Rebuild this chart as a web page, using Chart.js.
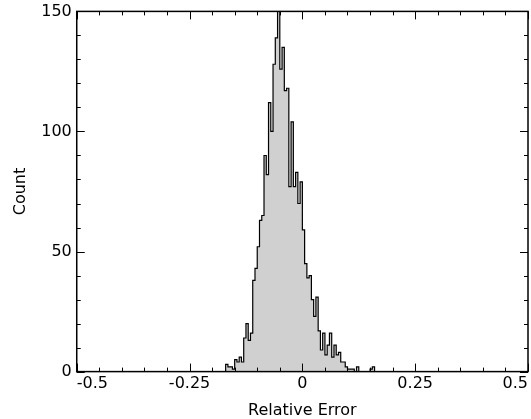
<!DOCTYPE html>
<html>
<head>
<meta charset="utf-8">
<script src="https://cdn.jsdelivr.net/npm/chart.js@4.4.0/dist/chart.umd.min.js"></script>
<style>
  html, body { margin: 0; padding: 0; background: #fff; }
  #wrap { width: 531px; height: 419px; }
</style>
</head>
<body>
<div id="wrap"><canvas id="histChart" width="531" height="419"></canvas></div>
<script>
// left edge of each histogram bin (bin width 0.005), last entry closes the final bin
const binEdges = [
  -0.175, -0.170, -0.165, -0.160, -0.155, -0.150, -0.145, -0.140, -0.135, -0.130,
  -0.125, -0.120, -0.115, -0.110, -0.105, -0.100, -0.095, -0.090, -0.085, -0.080,
  -0.075, -0.070, -0.065, -0.060, -0.055, -0.050, -0.045, -0.040, -0.035, -0.030,
  -0.025, -0.020, -0.015, -0.010, -0.005, 0.000, 0.005, 0.010, 0.015, 0.020,
  0.025, 0.030, 0.035, 0.040, 0.045, 0.050, 0.055, 0.060, 0.065, 0.070,
  0.075, 0.080, 0.085, 0.090, 0.095, 0.100, 0.105, 0.110, 0.115, 0.120,
  0.125, 0.130, 0.135, 0.140, 0.145, 0.150, 0.155, 0.160
];
const counts = [
  0, 3, 2, 2, 1, 5, 4, 6, 4, 14,
  20, 13, 16, 38, 43, 52, 63, 65, 90, 82,
  112, 100, 128, 139, 150, 126, 135, 117, 118, 77,
  104, 77, 83, 70, 79, 59, 45, 39, 40, 30,
  23, 31, 17, 9, 16, 7, 11, 16, 6, 11,
  7, 8, 4, 4, 2, 1, 1, 1, 0, 2,
  0, 0, 0, 0, 0, 1, 2, 0
];

const xMajor = [-0.5, -0.25, 0, 0.25, 0.5];
const xMinor = [-0.45, -0.4, -0.35, -0.3, -0.2, -0.15, -0.1, -0.05,
                0.05, 0.1, 0.15, 0.2, 0.3, 0.35, 0.4, 0.45];
const yMajor = [0, 50, 100, 150];
const yMinor = [10, 20, 30, 40, 60, 70, 80, 90, 110, 120, 130, 140];

Chart.defaults.font.family = "'DejaVu Sans', sans-serif";
Chart.defaults.font.size = 16;
Chart.defaults.color = '#000';

// box around the plot with inward ticks on all four sides
const frameTicks = {
  id: 'frameTicks',
  afterDatasetsDraw(chart) {
    const { ctx, chartArea: a, scales: { x, y } } = chart;
    ctx.save();
    ctx.strokeStyle = '#000';
    ctx.lineWidth = 1;
    const seg = (x1, y1, x2, y2) => {
      ctx.beginPath(); ctx.moveTo(x1, y1); ctx.lineTo(x2, y2); ctx.stroke();
    };
    const xTick = (v, len) => {
      const px = Math.round(x.getPixelForValue(v)) + 0.5;
      seg(px, a.bottom, px, a.bottom - len);
      seg(px, a.top, px, a.top + len);
    };
    const yTick = (v, len) => {
      const py = Math.round(y.getPixelForValue(v)) + 0.5;
      seg(a.left, py, a.left + len, py);
      seg(a.right, py, a.right - len, py);
    };
    xMajor.forEach(v => xTick(v, 8));
    xMinor.forEach(v => xTick(v, 4));
    yMajor.forEach(v => yTick(v, 8));
    yMinor.forEach(v => yTick(v, 4));
    ctx.lineWidth = 1.5;
    ctx.strokeRect(a.left, a.top, a.right - a.left, a.bottom - a.top);
    ctx.restore();
  }
};

new Chart(document.getElementById('histChart'), {
  type: 'line',
  data: {
    datasets: [{
      data: binEdges.map((e, i) => ({ x: e, y: counts[i] })),
      stepped: true,
      borderColor: '#000',
      borderWidth: 1.2,
      backgroundColor: '#d0d0d0',
      fill: 'origin',
      pointRadius: 0,
      tension: 0
    }]
  },
  options: {
    responsive: false,
    animation: false,
    devicePixelRatio: 1,
    layout: { padding: { left: 7, right: -10, top: 1, bottom: -1 } },
    plugins: {
      legend: { display: false },
      tooltip: { enabled: false }
    },
    scales: {
      x: {
        type: 'linear',
        min: -0.5,
        max: 0.5,
        grid: { display: false, drawTicks: false },
        border: { display: false },
        afterBuildTicks: scale => { scale.ticks = xMajor.map(v => ({ value: v })); },
        ticks: {
          padding: 3, align: 'inner', maxRotation: 0, autoSkip: false,
          callback: v => String(v)
        },
        title: { display: true, text: 'Relative Error', padding: { top: 4, bottom: 0 } }
      },
      y: {
        min: 0,
        max: 150,
        grid: { display: false, drawTicks: false },
        border: { display: false },
        afterBuildTicks: scale => { scale.ticks = yMajor.map(v => ({ value: v })); },
        ticks: { padding: 5, font: { lineHeight: 0.8 } },
        title: { display: true, text: 'Count', padding: { top: 4, bottom: 6 } }
      }
    }
  },
  plugins: [frameTicks]
});
</script>
</body>
</html>
